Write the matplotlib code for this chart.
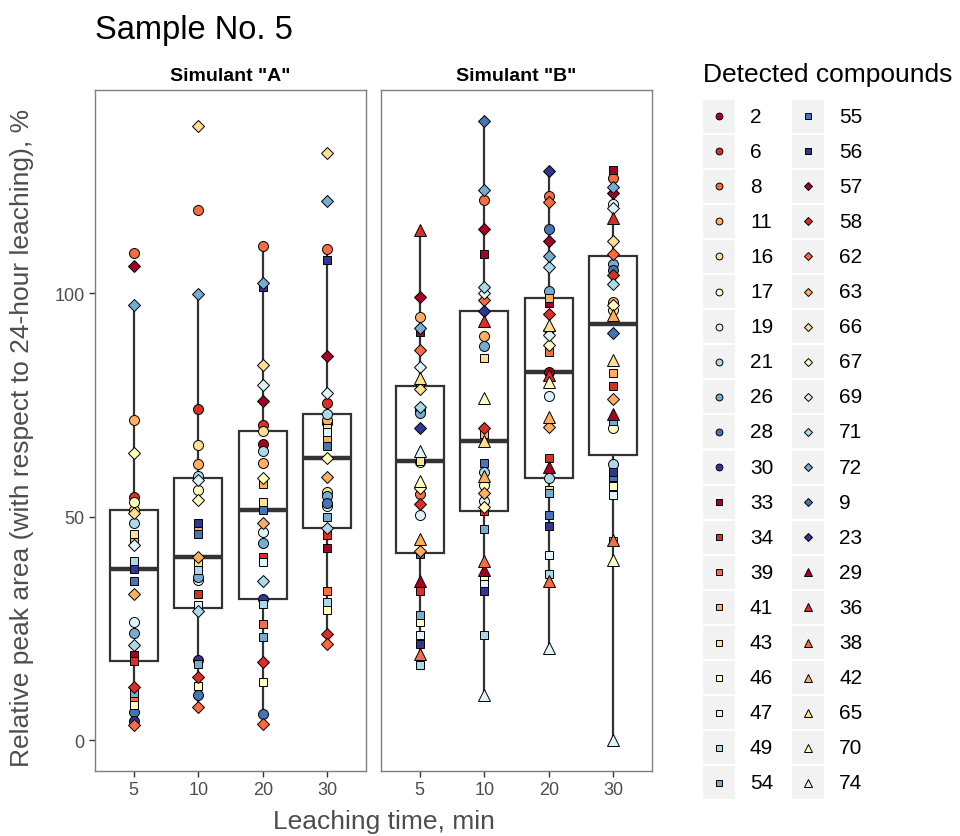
import matplotlib
matplotlib.use("Agg")
import matplotlib.pyplot as plt
import matplotlib.patches as mpatches
import numpy as np

plt.rcParams['font.family'] = ['Liberation Sans', 'DejaVu Sans']

nan = np.nan

# compounds, in legend order (shape group x palette colour)
compounds = ['2', '6', '8', '11', '16', '17', '19', '21', '26', '28', '30',
             '33', '34', '39', '41', '43', '46', '47', '49', '54', '55', '56',
             '57', '58', '62', '63', '66', '67', '69', '71', '72', '9', '23',
             '29', '36', '38', '42', '65', '70', '74']
palette = ['#A50026', '#D73027', '#F46D43', '#FDAE61', '#FEE090', '#FFFFBF',
           '#E0F3F8', '#ABD9E9', '#74ADD1', '#4575B4', '#313695']
shapes = ['o'] * 11 + ['s'] * 11 + ['D'] * 11 + ['^'] * 7

times = ['5', '10', '20', '30']

# relative peak area, %, one value per compound (same order as compounds)
a_5 = [nan, 54.3, 109.1, 71.7, 51.5, 53.3, 26.5, 48.5, 24.0, 6.3, 4.3,
       19.1, 17.8, 9.2, 45.0, 46.1, 7.9, nan, 40.0, 10.5, 35.5, 38.3,
       106.1, 11.8, 3.4, 32.7, 50.8, 64.2, 43.7, 21.3, 97.4, nan, nan,
       nan, nan, nan, nan, nan, nan, nan]
a_10 = [nan, 74.1, 118.7, 61.8, 66.1, 55.9, 35.9, 59.1, 36.5, 10.0, 18.0,
        nan, 32.7, nan, 47.0, 39.6, 12.2, 30.3, 38.1, 17.0, 46.1, 48.5,
        nan, 14.2, 7.4, 40.9, 137.4, 53.8, 58.1, 28.8, 99.8, nan, nan,
        nan, nan, nan, nan, nan, nan, nan]
a_20 = [66.3, 70.6, 110.6, 62.0, 69.2, nan, 46.6, 64.8, 44.2, 5.9, 31.5,
        nan, 40.9, 26.0, 57.2, 53.3, 13.1, 39.9, 30.5, 23.1, 51.4, 101.3,
        75.9, 17.4, 3.7, 48.5, 84.0, 58.6, 79.5, 35.6, 102.2, nan, nan,
        nan, nan, nan, nan, nan, nan, nan]
a_30 = [71.0, 75.4, 109.9, 71.7, 55.5, nan, 52.3, 73.0, 54.7, 53.0, nan,
        43.0, 45.8, 33.4, 67.5, 69.8, 29.2, 68.9, 30.8, 50.0, 65.9, 107.5,
        85.9, 23.7, 21.5, 58.8, 131.5, 63.1, 77.6, 47.5, 120.7, nan, nan,
        nan, nan, nan, nan, nan, nan, nan]
b_5 = [nan, nan, 55.0, 94.6, nan, 62.3, 50.3, 73.8, 73.2, nan, nan,
       91.4, 33.3, 79.5, 62.7, 62.5, 26.4, 23.4, 16.8, 28.0, 41.6, 21.5,
       99.2, 52.9, 87.2, 42.4, 78.5, 56.4, 83.4, 74.6, 92.3, nan, 69.8,
       35.6, 114.2, 19.3, 45.0, 81.0, 57.9, 64.6]
b_10 = [nan, nan, 120.9, 90.5, nan, 57.1, 53.4, 60.1, 88.2, nan, nan,
        108.9, 51.2, nan, 68.5, 85.5, 36.2, 34.9, 23.6, 47.2, 62.0, 33.3,
        114.4, 69.8, 98.5, 55.4, nan, 52.1, 100.0, 101.3, 123.1, 138.6, 96.1,
        38.1, 93.7, 40.0, 59.0, 67.0, 76.5, 10.1]
b_20 = [82.3, nan, 121.8, nan, nan, nan, 76.9, 58.6, 100.4, 114.3, nan,
        97.8, 63.2, 86.9, 98.9, 56.0, nan, 41.5, 37.1, 55.3, 50.4, 47.8,
        111.6, 95.3, 120.4, 70.0, 91.8, 88.4, 90.7, 105.9, 108.4, nan, 127.4,
        61.2, 81.7, 35.5, 72.2, 92.9, 80.1, 20.6]
b_30 = [nan, nan, 125.9, 98.1, 96.3, 69.8, 120.0, 61.7, 106.5, 105.2, nan,
        127.6, 79.3, nan, 82.1, nan, 56.8, 54.9, 44.5, 71.3, 58.8, 60.1,
        122.4, 104.0, 108.9, 76.3, 111.8, 97.4, 119.0, 102.1, 123.9, 91.0, nan,
        72.9, 116.9, 44.8, 95.1, 85.1, 40.3, 0.0]

panels = [('Simulant "A"', [a_5, a_10, a_20, a_30]),
          ('Simulant "B"', [b_5, b_10, b_20, b_30])]

colors = [palette[i % 11] for i in range(len(compounds))]
# ggplot-like sizes per shape (points)
msize = {'o': 7.2, 's': 6.4, 'D': 5.8, '^': 8.6}

fig = plt.figure(figsize=(9.6, 8.37), dpi=100)

W, H = 960.0, 837.0
bottom, top = 1 - 772 / H, 1 - 91 / H
panel_x = [(95, 366), (381, 652)]
grey = '#333333'

for p, (strip, cols) in enumerate(panels):
    x0, x1 = panel_x[p]
    ax = fig.add_axes([x0 / W, bottom, (x1 - x0) / W, top - bottom])
    pos = np.arange(1, len(times) + 1)
    data = [np.array(c, dtype=float) for c in cols]
    ax.boxplot([d[~np.isnan(d)] for d in data], positions=pos, widths=0.75,
               whis=1.5, showfliers=False, showcaps=False, patch_artist=True,
               boxprops=dict(facecolor='white', edgecolor=grey, linewidth=1.6),
               whiskerprops=dict(color=grey, linewidth=1.6),
               medianprops=dict(color=grey, linewidth=3.2), zorder=1)
    for k in range(len(compounds)):
        yv = np.array([d[k] for d in data])
        ok = ~np.isnan(yv)
        ax.plot(pos[ok], yv[ok], linestyle='none', marker=shapes[k],
                ms=msize[shapes[k]], mfc=colors[k], mec='black', mew=0.7,
                zorder=3)
    ax.set_xlim(0.4, 4.6)
    ax.set_ylim(-6.93, 145.5)
    ax.set_xticks(pos)
    ax.set_xticklabels(times)
    ax.set_yticks([0, 50, 100])
    ax.tick_params(colors=grey, labelcolor='#4D4D4D', labelsize=13,
                   length=4, width=1)
    if p == 1:
        ax.tick_params(axis='y', left=False, labelleft=False)
    for s in ax.spines.values():
        s.set_color('#7F7F7F')
        s.set_linewidth(1.0)
    ax.set_title(strip, fontsize=14, fontweight='bold', pad=7)

fig.text(95 / W, 1 - 30 / H, 'Sample No. 5', fontsize=23.5, va='center', ha='left')
fig.text(384 / W, 1 - 822 / H, 'Leaching time, min', fontsize=19, color='#4D4D4D',
         ha='center', va='center')
fig.text(22 / W, 1 - 438 / H, 'Relative peak area (with respect to 24-hour leaching), %',
         fontsize=19, color='#4D4D4D', rotation=90, ha='center', va='center')

# legend
lax = fig.add_axes([0, 0, 1, 1])
lax.set_xlim(0, W)
lax.set_ylim(H, 0)
lax.axis('off')
lax.text(703, 75, 'Detected compounds', fontsize=19, va='center', ha='left')
nrow = 20
for k, name in enumerate(compounds):
    col, row = divmod(k, nrow)
    cy = 117 + row * 35.1
    kx = 703 + col * 89
    lax.add_patch(mpatches.Rectangle((kx, cy - 16.5), 32, 33, facecolor='#F2F2F2',
                                     edgecolor='none'))
    lax.plot([kx + 16], [cy], marker=shapes[k], ms=msize[shapes[k]] * 0.68,
             mfc=colors[k], mec='black', mew=0.7, linestyle='none')
    lax.text(kx + 47, cy, name, fontsize=15, va='center', ha='left')

fig.savefig('out.png', dpi=100)
